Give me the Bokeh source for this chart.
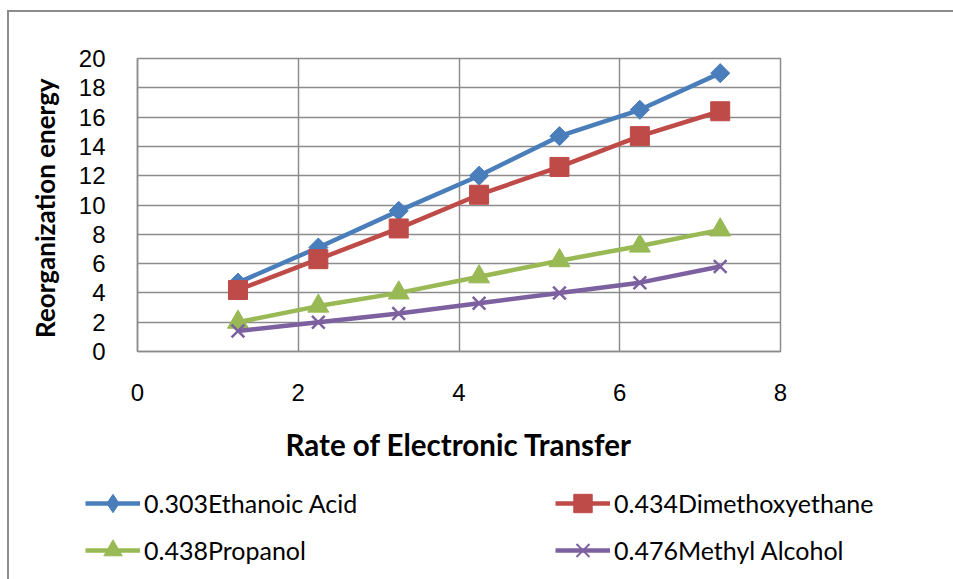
import math
from bokeh.plotting import figure
from bokeh.layouts import column
from bokeh.models import Range1d, FixedTicker, Legend, LegendItem
from bokeh.embed import file_html
from bokeh.resources import INLINE

# ---- data ----
rate = [1.25, 2.25, 3.25, 4.25, 5.25, 6.25, 7.25]
ethanoic_acid = [4.7, 7.1, 9.6, 12.0, 14.7, 16.5, 19.0]
dimethoxyethane = [4.2, 6.3, 8.4, 10.7, 12.6, 14.7, 16.4]
propanol = [2.0, 3.1, 4.0, 5.1, 6.2, 7.2, 8.3]
methyl_alcohol = [1.4, 2.0, 2.6, 3.3, 4.0, 4.7, 5.8]
series_names = ["0.303Ethanoic Acid", "0.434Dimethoxyethane", "0.438Propanol", "0.476Methyl Alcohol"]
x_ticks = [0, 2, 4, 6, 8]
y_ticks = [0, 2, 4, 6, 8, 10, 12, 14, 16, 18, 20]

GRID = "#8c8c8c"
TICK_FONT = "'Liberation Sans', Arial, sans-serif"
LABEL_FONT = "Lato, 'Open Sans', sans-serif"

W = 944
p = figure(
    width=W, height=468,
    x_range=Range1d(0, 8), y_range=Range1d(0, 20),
    output_backend="svg", toolbar_location=None,
    min_border_left=128, min_border_right=173,
    min_border_top=46, min_border_bottom=129,
    x_axis_label="Rate of Electronic Transfer",
    y_axis_label="Reorganization  energy",
)
p.outline_line_color = GRID
p.outline_line_width = 1.5
p.background_fill_color = "white"
p.border_fill_color = "white"

for g in (p.xgrid[0], p.ygrid[0]):
    g.grid_line_color = GRID
    g.grid_line_width = 1.5
p.xgrid[0].ticker = FixedTicker(ticks=x_ticks)
p.ygrid[0].ticker = FixedTicker(ticks=y_ticks)

for ax in (p.xaxis[0], p.yaxis[0]):
    ax.axis_line_color = GRID
    ax.axis_line_width = 1.5
    ax.major_tick_line_color = None
    ax.minor_tick_line_color = None
    ax.major_label_text_font = TICK_FONT
    ax.major_label_text_font_size = "24px"
    ax.major_label_text_color = "black"
    ax.axis_label_text_font = LABEL_FONT
    ax.axis_label_text_font_style = "bold"
    ax.axis_label_text_color = "black"

p.xaxis[0].ticker = FixedTicker(ticks=x_ticks)
p.yaxis[0].ticker = FixedTicker(ticks=y_ticks)
p.xaxis[0].major_label_standoff = 26
p.xaxis[0].axis_label_standoff = 23
p.xaxis[0].axis_label_text_font_size = "29.5px"
p.yaxis[0].major_label_standoff = 26
p.yaxis[0].axis_label_standoff = 15
p.yaxis[0].axis_label_text_font_size = "26px"

styles = [
    (ethanoic_acid, "#4a7ebb", dict(marker="square", size=13.5, angle=math.pi / 4), dict(marker="diamond", size=18)),
    (dimethoxyethane, "#be4b48", dict(marker="square", size=19), dict(marker="square", size=17)),
    (propanol, "#98b954", dict(marker="triangle", size=21), dict(marker="triangle", size=18)),
    (methyl_alcohol, "#7d60a0", dict(marker="x", size=18, line_width=2.5), dict(marker="x", size=17, line_width=2)),
]

# legend strip below the chart; its key renderers sit outside its (empty) view
lp = figure(
    width=W, height=99, x_range=Range1d(100, 101), y_range=Range1d(100, 101),
    output_backend="svg", toolbar_location=None,
    min_border_left=0, min_border_right=0, min_border_top=0, min_border_bottom=0,
)
lp.axis.visible = False
lp.grid.visible = False
lp.outline_line_color = None
lp.background_fill_color = "white"
lp.border_fill_color = "white"

items = []
for name, (vals, color, mk, mk_leg) in zip(series_names, styles):
    kw = dict(mk)
    lw = kw.pop("line_width", 1)
    p.line(rate, vals, line_color=color, line_width=4.5)
    p.scatter(rate, vals, fill_color=color, line_color=color, line_width=lw, **kw)
    kl = dict(mk_leg)
    lwl = kl.pop("line_width", 1)
    ll = lp.line(rate, vals, line_color=color, line_width=4.5)
    ls = lp.scatter(rate, vals, fill_color=color, line_color=color, line_width=lwl, **kl)
    items.append(LegendItem(label=name, renderers=[ll, ls]))

def make_legend(its, loc):
    lg = Legend(items=its, location=loc, orientation="vertical")
    lg.border_line_color = None
    lg.background_fill_alpha = 0
    lg.padding = 0
    lg.margin = 0
    lg.glyph_width = 55
    lg.glyph_height = 46
    lg.label_height = 46
    lg.spacing = 1
    lg.label_standoff = 4
    lg.label_text_font = LABEL_FONT
    lg.label_text_font_size = "25px"
    lg.label_text_color = "black"
    return lg

lp.add_layout(make_legend([items[0], items[2]], (76, 6)))
lp.add_layout(make_legend([items[1], items[3]], (546, 6)))

if "frame_align" in lp.properties():
    p.frame_align = False
    lp.frame_align = False
    root = column(p, lp, spacing=0)
    root.margin = (10, 0, 0, 7)
    root.styles = {"border-top": "2px solid #8c8c8c", "border-left": "2px solid #8c8c8c"}
    html = file_html(root, INLINE)
else:
    p.margin = (10, 0, 0, 7)
    p.styles = {"border-top": "2px solid #8c8c8c", "border-left": "2px solid #8c8c8c"}
    lp.margin = (0, 0, 0, 7)
    lp.styles = {"border-left": "2px solid #8c8c8c"}
    html = file_html([p, lp], INLINE)

open("out.html", "w").write(html)
